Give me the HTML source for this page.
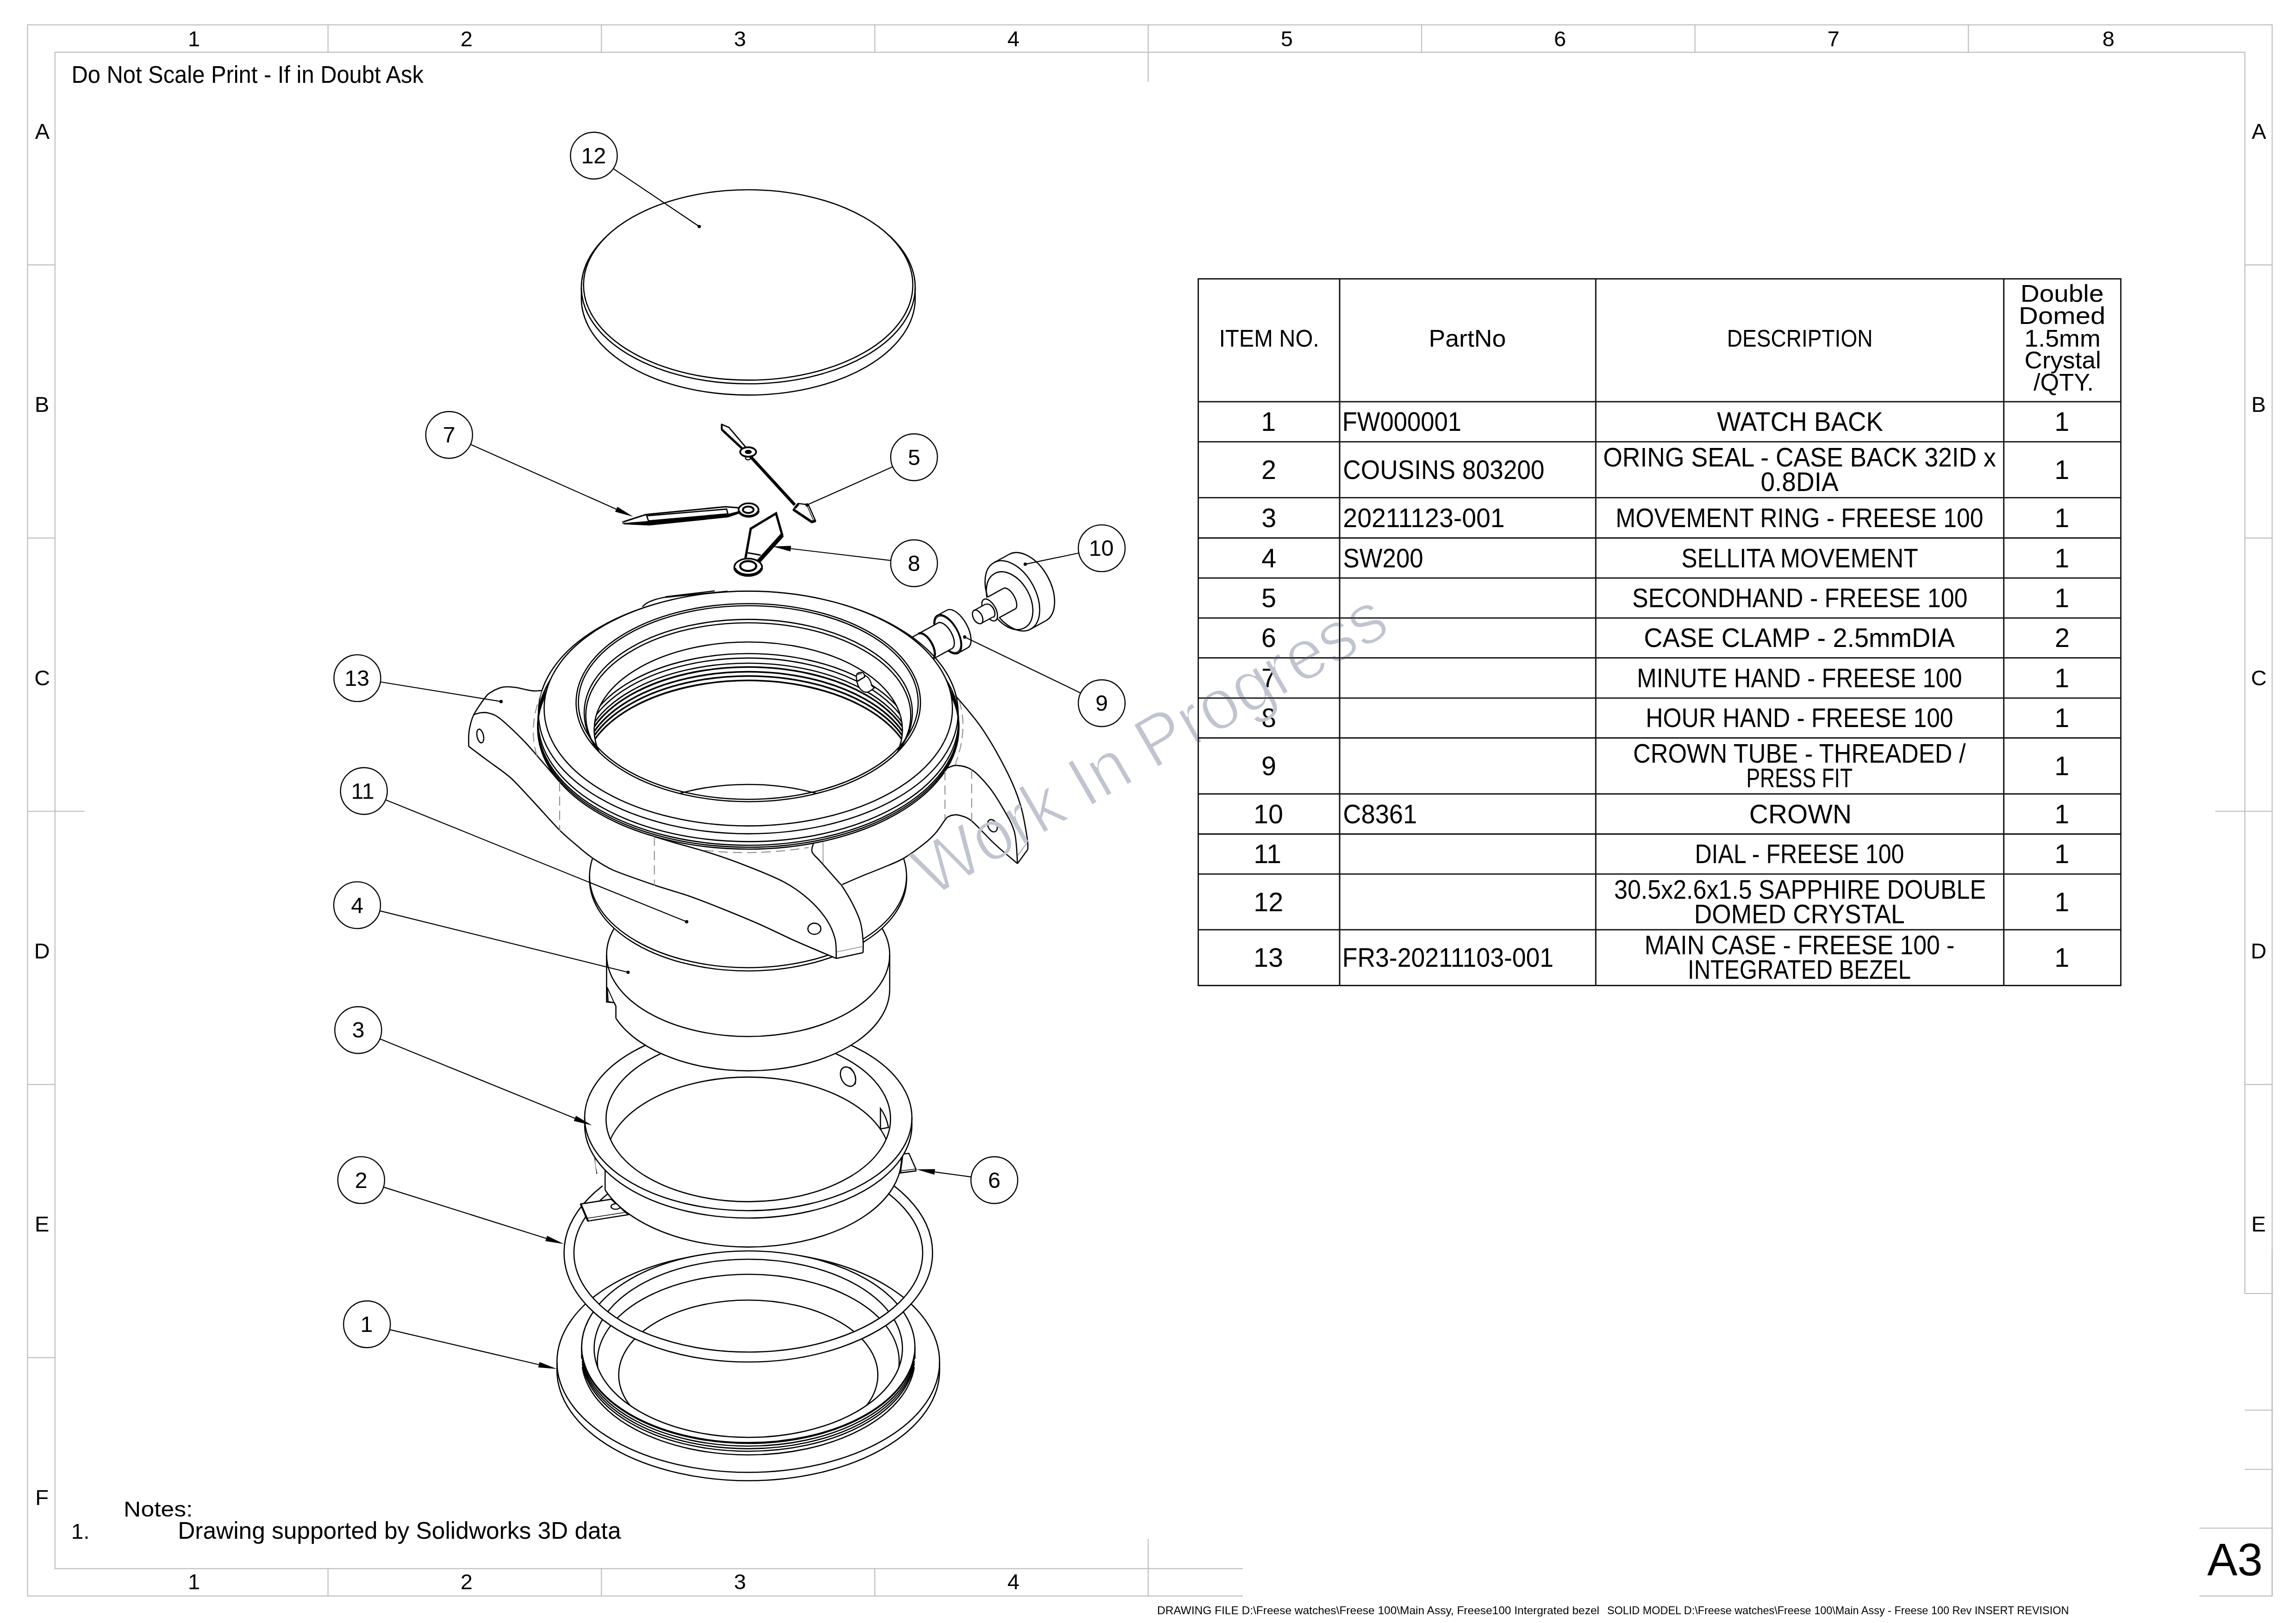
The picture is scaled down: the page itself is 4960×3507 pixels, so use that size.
<!DOCTYPE html>
<html><head><meta charset="utf-8"><style>
html,body{margin:0;padding:0;background:#fff;}
svg{display:block;}
text{font-family:"Liberation Sans",sans-serif;}
</style></head><body>
<svg width="4960" height="3507" viewBox="0 0 4960 3507" font-family="Liberation Sans, sans-serif">
<rect width="4960" height="3507" fill="#fff"/>
<g stroke="#bdbdbd" stroke-width="2.2" fill="none">
<rect x="59.5" y="53.7" width="4849.0" height="3394.9"/>
<rect x="118.8" y="113" width="4730.7" height="3276.5"/>
<line x1="708.6" y1="53.7" x2="708.6" y2="113"/>
<line x1="708.6" y1="3389.5" x2="708.6" y2="3448.6"/>
<line x1="1299.2" y1="53.7" x2="1299.2" y2="113"/>
<line x1="1299.2" y1="3389.5" x2="1299.2" y2="3448.6"/>
<line x1="1889.8" y1="53.7" x2="1889.8" y2="113"/>
<line x1="1889.8" y1="3389.5" x2="1889.8" y2="3448.6"/>
<line x1="2480.4" y1="53.7" x2="2480.4" y2="177"/>
<line x1="2480.4" y1="3325.5" x2="2480.4" y2="3448.6"/>
<line x1="3071.0" y1="53.7" x2="3071.0" y2="113"/>
<line x1="3071.0" y1="3389.5" x2="3071.0" y2="3448.6"/>
<line x1="3661.6" y1="53.7" x2="3661.6" y2="113"/>
<line x1="3661.6" y1="3389.5" x2="3661.6" y2="3448.6"/>
<line x1="4252.2" y1="53.7" x2="4252.2" y2="113"/>
<line x1="4252.2" y1="3389.5" x2="4252.2" y2="3448.6"/>
<line x1="59.5" y1="572.4" x2="118.8" y2="572.4"/>
<line x1="4849.5" y1="572.4" x2="4908.5" y2="572.4"/>
<line x1="59.5" y1="1162.7" x2="118.8" y2="1162.7"/>
<line x1="4849.5" y1="1162.7" x2="4908.5" y2="1162.7"/>
<line x1="59.5" y1="1753.0" x2="182.8" y2="1753.0"/>
<line x1="4785.5" y1="1753.0" x2="4908.5" y2="1753.0"/>
<line x1="59.5" y1="2343.3" x2="118.8" y2="2343.3"/>
<line x1="4849.5" y1="2343.3" x2="4908.5" y2="2343.3"/>
<line x1="59.5" y1="2933.6" x2="118.8" y2="2933.6"/>
<line x1="4849.5" y1="2933.6" x2="4908.5" y2="2933.6"/>
</g>
<text x="406.0" y="100.3" font-size="47.0" fill="#000">1</text>
<text x="406.0" y="3433.5" font-size="47.0" fill="#000">1</text>
<text x="994.8" y="100.3" font-size="47.0" fill="#000">2</text>
<text x="994.8" y="3433.5" font-size="47.0" fill="#000">2</text>
<text x="1585.6" y="100.3" font-size="47.0" fill="#000">3</text>
<text x="1585.6" y="3433.5" font-size="47.0" fill="#000">3</text>
<text x="2176.2" y="100.3" font-size="47.0" fill="#000">4</text>
<text x="2176.2" y="3433.5" font-size="47.0" fill="#000">4</text>
<text x="2766.7" y="100.3" font-size="47.0" fill="#000">5</text>
<text x="3357.1" y="100.3" font-size="47.0" fill="#000">6</text>
<text x="3947.8" y="100.3" font-size="47.0" fill="#000">7</text>
<text x="4541.8" y="100.3" font-size="47.0" fill="#000">8</text>
<text x="75.8" y="300.0" font-size="47.0" fill="#000">A</text>
<text x="4864.3" y="300.0" font-size="47.0" fill="#000">A</text>
<text x="75.1" y="890.3" font-size="47.0" fill="#000">B</text>
<text x="4863.6" y="890.3" font-size="47.0" fill="#000">B</text>
<text x="74.2" y="1480.6" font-size="47.0" fill="#000">C</text>
<text x="4862.7" y="1480.6" font-size="47.0" fill="#000">C</text>
<text x="73.7" y="2070.9" font-size="47.0" fill="#000">D</text>
<text x="4862.2" y="2070.9" font-size="47.0" fill="#000">D</text>
<text x="74.9" y="2661.2" font-size="47.0" fill="#000">E</text>
<text x="4863.4" y="2661.2" font-size="47.0" fill="#000">E</text>
<text x="76.2" y="3251.5" font-size="47.0" fill="#000">F</text>
<text x="4864.7" y="3251.5" font-size="47.0" fill="#000">F</text>
<rect x="2685" y="2592" width="2163" height="860" fill="#fff"/>
<rect x="2685" y="2796" width="2222" height="656" fill="#fff"/>
<g stroke="#bdbdbd" stroke-width="2.2" fill="none">
<line x1="4849.5" y1="2795" x2="4908.5" y2="2795"/>
<line x1="4849.5" y1="3047" x2="4908.5" y2="3047"/>
<line x1="4849.5" y1="3175" x2="4908.5" y2="3175"/>
<line x1="4751.5" y1="3302" x2="4908.5" y2="3302"/>
<line x1="4751.5" y1="3448.6" x2="4908.5" y2="3448.6"/>
<line x1="4908.5" y1="2700" x2="4908.5" y2="3448.6"/>
</g>
<text x="4768.3" y="3404.0" font-size="98.0" textLength="119.6" lengthAdjust="spacingAndGlyphs" fill="#000">A3</text>
<text x="154.4" y="179.0" font-size="51.0" textLength="760.5" lengthAdjust="spacingAndGlyphs" fill="#000">Do Not Scale Print - If in Doubt Ask</text>
<text x="267.1" y="3276.8" font-size="47.0" textLength="149.3" lengthAdjust="spacingAndGlyphs" fill="#000">Notes:</text>
<text x="153.7" y="3325.0" font-size="47.0" textLength="39.7" lengthAdjust="spacingAndGlyphs" fill="#000">1.</text>
<text x="384.2" y="3325.0" font-size="52.0" textLength="957.3" lengthAdjust="spacingAndGlyphs" fill="#000">Drawing supported by Solidworks 3D data</text>
<text x="2499.8" y="3487.9" font-size="24.0" textLength="955.2" lengthAdjust="spacingAndGlyphs" fill="#000">DRAWING FILE D:\Freese watches\Freese 100\Main Assy, Freese100 Intergrated bezel</text>
<text x="3471.9" y="3487.9" font-size="24.0" textLength="997.5" lengthAdjust="spacingAndGlyphs" fill="#000">SOLID MODEL D:\Freese watches\Freese 100\Main Assy - Freese 100 Rev INSERT REVISION</text>
<g stroke="#111" stroke-width="2.6" fill="none">
<line x1="2587.5" y1="602.5" x2="4582.9" y2="602.5"/>
<line x1="2587.5" y1="868" x2="4582.9" y2="868"/>
<line x1="2587.5" y1="954.7" x2="4582.9" y2="954.7"/>
<line x1="2587.5" y1="1075.3" x2="4582.9" y2="1075.3"/>
<line x1="2587.5" y1="1162.4" x2="4582.9" y2="1162.4"/>
<line x1="2587.5" y1="1249" x2="4582.9" y2="1249"/>
<line x1="2587.5" y1="1335.3" x2="4582.9" y2="1335.3"/>
<line x1="2587.5" y1="1421.5" x2="4582.9" y2="1421.5"/>
<line x1="2587.5" y1="1508.2" x2="4582.9" y2="1508.2"/>
<line x1="2587.5" y1="1594.6" x2="4582.9" y2="1594.6"/>
<line x1="2587.5" y1="1715.5" x2="4582.9" y2="1715.5"/>
<line x1="2587.5" y1="1802.1" x2="4582.9" y2="1802.1"/>
<line x1="2587.5" y1="1888.8" x2="4582.9" y2="1888.8"/>
<line x1="2587.5" y1="2009" x2="4582.9" y2="2009"/>
<line x1="2587.5" y1="2129.6" x2="4582.9" y2="2129.6"/>
<line x1="2588.7" y1="602.5" x2="2588.7" y2="2129.6"/>
<line x1="2894" y1="602.5" x2="2894" y2="2129.6"/>
<line x1="3447.2" y1="602.5" x2="3447.2" y2="2129.6"/>
<line x1="4328.8" y1="602.5" x2="4328.8" y2="2129.6"/>
<line x1="4581.7" y1="602.5" x2="4581.7" y2="2129.6"/>
</g>
<text x="2633.5" y="749.1" font-size="52.0" textLength="216.4" lengthAdjust="spacingAndGlyphs" fill="#000">ITEM NO.</text>
<text x="3086.6" y="749.1" font-size="52.0" textLength="166.6" lengthAdjust="spacingAndGlyphs" fill="#000">PartNo</text>
<text x="3730.7" y="749.1" font-size="52.0" textLength="314.8" lengthAdjust="spacingAndGlyphs" fill="#000">DESCRIPTION</text>
<text x="4364.8" y="651.6" font-size="52.0" textLength="179.7" lengthAdjust="spacingAndGlyphs" fill="#000">Double</text>
<text x="4361.1" y="700.2" font-size="52.0" textLength="187.2" lengthAdjust="spacingAndGlyphs" fill="#000">Domed</text>
<text x="4373.3" y="748.8" font-size="52.0" textLength="164.4" lengthAdjust="spacingAndGlyphs" fill="#000">1.5mm</text>
<text x="4373.6" y="795.9" font-size="52.0" textLength="165.1" lengthAdjust="spacingAndGlyphs" fill="#000">Crystal</text>
<text x="4393.0" y="844.0" font-size="52.0" textLength="130.0" lengthAdjust="spacingAndGlyphs" fill="#000">/QTY.</text>
<text x="2724.2" y="931.1" font-size="57.5" fill="#000">1</text>
<text x="2899.7" y="931.1" font-size="57.5" textLength="257.4" lengthAdjust="spacingAndGlyphs" fill="#000">FW000001</text>
<text x="4438.2" y="931.1" font-size="57.5" fill="#000">1</text>
<text x="3709.3" y="931.1" font-size="57.5" textLength="358.8" lengthAdjust="spacingAndGlyphs" fill="#000">WATCH BACK</text>
<text x="2725.0" y="1034.8" font-size="57.5" fill="#000">2</text>
<text x="2901.3" y="1034.8" font-size="57.5" textLength="435.2" lengthAdjust="spacingAndGlyphs" fill="#000">COUSINS 803200</text>
<text x="4438.2" y="1034.8" font-size="57.5" fill="#000">1</text>
<text x="3463.2" y="1008.0" font-size="57.5" textLength="848.7" lengthAdjust="spacingAndGlyphs" fill="#000">ORING SEAL - CASE BACK 32ID x</text>
<text x="3803.4" y="1061.0" font-size="57.5" textLength="168.3" lengthAdjust="spacingAndGlyphs" fill="#000">0.8DIA</text>
<text x="2725.2" y="1138.6" font-size="57.5" fill="#000">3</text>
<text x="2901.3" y="1138.6" font-size="57.5" textLength="349.4" lengthAdjust="spacingAndGlyphs" fill="#000">20211123-001</text>
<text x="4438.2" y="1138.6" font-size="57.5" fill="#000">1</text>
<text x="3490.3" y="1138.6" font-size="57.5" textLength="794.2" lengthAdjust="spacingAndGlyphs" fill="#000">MOVEMENT RING - FREESE 100</text>
<text x="2725.2" y="1225.5" font-size="57.5" fill="#000">4</text>
<text x="2901.6" y="1225.5" font-size="57.5" textLength="173.0" lengthAdjust="spacingAndGlyphs" fill="#000">SW200</text>
<text x="4438.2" y="1225.5" font-size="57.5" fill="#000">1</text>
<text x="3632.2" y="1225.5" font-size="57.5" textLength="511.5" lengthAdjust="spacingAndGlyphs" fill="#000">SELLITA MOVEMENT</text>
<text x="2725.1" y="1311.9" font-size="57.5" fill="#000">5</text>
<text x="4438.2" y="1311.9" font-size="57.5" fill="#000">1</text>
<text x="3526.1" y="1311.9" font-size="57.5" textLength="724.4" lengthAdjust="spacingAndGlyphs" fill="#000">SECONDHAND - FREESE 100</text>
<text x="2724.8" y="1398.2" font-size="57.5" fill="#000">6</text>
<text x="4439.0" y="1398.2" font-size="57.5" fill="#000">2</text>
<text x="3551.2" y="1398.2" font-size="57.5" textLength="671.9" lengthAdjust="spacingAndGlyphs" fill="#000">CASE CLAMP - 2.5mmDIA</text>
<text x="2725.0" y="1484.6" font-size="57.5" fill="#000">7</text>
<text x="4438.2" y="1484.6" font-size="57.5" fill="#000">1</text>
<text x="3536.3" y="1484.6" font-size="57.5" textLength="702.2" lengthAdjust="spacingAndGlyphs" fill="#000">MINUTE HAND - FREESE 100</text>
<text x="2725.0" y="1571.2" font-size="57.5" fill="#000">8</text>
<text x="4438.2" y="1571.2" font-size="57.5" fill="#000">1</text>
<text x="3555.3" y="1571.2" font-size="57.5" textLength="664.2" lengthAdjust="spacingAndGlyphs" fill="#000">HOUR HAND - FREESE 100</text>
<text x="2725.0" y="1674.8" font-size="57.5" fill="#000">9</text>
<text x="4438.2" y="1674.8" font-size="57.5" fill="#000">1</text>
<text x="3527.9" y="1648.0" font-size="57.5" textLength="718.6" lengthAdjust="spacingAndGlyphs" fill="#000">CROWN TUBE - THREADED /</text>
<text x="3772.4" y="1701.0" font-size="57.5" textLength="229.7" lengthAdjust="spacingAndGlyphs" fill="#000">PRESS FIT</text>
<text x="2708.0" y="1778.5" font-size="57.5" fill="#000">10</text>
<text x="2901.2" y="1778.5" font-size="57.5" textLength="160.1" lengthAdjust="spacingAndGlyphs" fill="#000">C8361</text>
<text x="4438.2" y="1778.5" font-size="57.5" fill="#000">1</text>
<text x="3778.8" y="1778.5" font-size="57.5" textLength="221.2" lengthAdjust="spacingAndGlyphs" fill="#000">CROWN</text>
<text x="2708.2" y="1865.2" font-size="57.5" fill="#000">11</text>
<text x="4438.2" y="1865.2" font-size="57.5" fill="#000">1</text>
<text x="3661.4" y="1865.2" font-size="57.5" textLength="452.0" lengthAdjust="spacingAndGlyphs" fill="#000">DIAL - FREESE 100</text>
<text x="2708.3" y="1968.7" font-size="57.5" fill="#000">12</text>
<text x="4438.2" y="1968.7" font-size="57.5" fill="#000">1</text>
<text x="3487.0" y="1941.9" font-size="57.5" textLength="803.2" lengthAdjust="spacingAndGlyphs" fill="#000">30.5x2.6x1.5 SAPPHIRE DOUBLE</text>
<text x="3659.8" y="1994.9" font-size="57.5" textLength="454.8" lengthAdjust="spacingAndGlyphs" fill="#000">DOMED CRYSTAL</text>
<text x="2708.1" y="2089.1" font-size="57.5" fill="#000">13</text>
<text x="2899.7" y="2089.1" font-size="57.5" textLength="456.4" lengthAdjust="spacingAndGlyphs" fill="#000">FR3-20211103-001</text>
<text x="4438.2" y="2089.1" font-size="57.5" fill="#000">1</text>
<text x="3552.8" y="2062.3" font-size="57.5" textLength="669.5" lengthAdjust="spacingAndGlyphs" fill="#000">MAIN CASE - FREESE 100 -</text>
<text x="3646.0" y="2115.3" font-size="57.5" textLength="482.1" lengthAdjust="spacingAndGlyphs" fill="#000">INTEGRATED BEZEL</text>
<path d="M1203.2,2943.0 A413.3,238.5 0 0 1 1616.5,2704.5A413.3,238.5 0 0 1 2029.8,2943.0 L2029.8,2961.0 A413.3,238.5 0 0 1 1616.5,3199.5A413.3,238.5 0 0 1 1203.2,2961.0 Z" fill="#fff" stroke="none"/>
<ellipse cx="1616.5" cy="2943.0" rx="413.3" ry="238.5" stroke="#000" stroke-width="2.6" fill="none"/>
<path d="M2029.8,2961.0A413.3,238.5 0 0 1 1616.5,3199.5A413.3,238.5 0 0 1 1203.2,2961.0" stroke="#000" stroke-width="2.6" fill="none"/>
<line x1="1203.2" y1="2943.0" x2="1203.2" y2="2961.0" stroke="#000" stroke-width="2.6"/>
<line x1="2029.8" y1="2943.0" x2="2029.8" y2="2961.0" stroke="#000" stroke-width="2.6"/>
<path d="M1256.5,2911.0 A360.0,208.0 0 0 1 1616.5,2703.0A360.0,208.0 0 0 1 1976.5,2911.0 L1976.5,2936.0 A360.0,208.0 0 0 1 1616.5,3144.0A360.0,208.0 0 0 1 1256.5,2936.0 Z" fill="#fff" stroke="none"/>
<path d="M1975.1,2927.5A360.0,208.0 0 0 1 1257.9,2927.5" stroke="#000" stroke-width="2.6" fill="none"/>
<path d="M1975.1,2935.1A360.0,208.0 0 0 1 1257.9,2935.1" stroke="#000" stroke-width="2.6" fill="none"/>
<path d="M1975.1,2940.7A360.0,208.0 0 0 1 1257.9,2940.7" stroke="#000" stroke-width="2.6" fill="none"/>
<path d="M1975.1,2946.3A360.0,208.0 0 0 1 1257.9,2946.3" stroke="#000" stroke-width="2.6" fill="none"/>
<path d="M1975.1,2954.1A360.0,208.0 0 0 1 1257.9,2954.1" stroke="#000" stroke-width="2.6" fill="none"/>
<ellipse cx="1616.5" cy="2911.0" rx="360.0" ry="208.0" stroke="#000" stroke-width="2.6" fill="none"/>
<line x1="1256.5" y1="2911.0" x2="1256.5" y2="2936.0" stroke="#000" stroke-width="2.5"/>
<line x1="1976.5" y1="2911.0" x2="1976.5" y2="2936.0" stroke="#000" stroke-width="2.5"/>
<clipPath id="cpBack"><ellipse cx="1616.5" cy="2913.5" rx="333" ry="192.5"/></clipPath>
<ellipse cx="1616.5" cy="2913.5" rx="333.0" ry="192.5" stroke="#000" stroke-width="2.6" fill="none"/>
<g clip-path="url(#cpBack)">
<ellipse cx="1616.5" cy="2942.0" rx="326.0" ry="188.5" stroke="#000" stroke-width="2.6" fill="none"/>
<ellipse cx="1616.5" cy="2971.0" rx="279.9" ry="161.8" stroke="#000" stroke-width="2.6" fill="none"/>
</g>
<path d="M1218.5,2707.0 A398.0,236.0 0 0 1 1815.5,2502.6A398.0,236.0 0 0 1 1815.5,2911.4A398.0,236.0 0 0 1 1218.5,2707.0 M1239.8,2707.0 A376.7,214.5 0 0 1 1804.8,2521.2A376.7,214.5 0 0 1 1804.8,2892.8A376.7,214.5 0 0 1 1239.8,2707.0" fill="#fff" fill-rule="evenodd" stroke="#000" stroke-width="2.6"/>
<path d="M1254.5,2601.6 L1320.1,2591.4 L1357.1,2624.7 L1270.2,2638.5 Z" stroke="#000" stroke-width="2.6" fill="#fff"/>
<line x1="1268.0" y1="2632.5" x2="1352.0" y2="2619.5" stroke="#000" stroke-width="1.6"/>
<path d="M1254.5,2601.6 L1270.2,2638.5" stroke="#000" stroke-width="4" fill="none"/>
<ellipse cx="1330.0" cy="2607.0" rx="10.0" ry="6.0" stroke="#000" stroke-width="2.6" fill="#fff"/>
<path d="M1950.6,2493.4 L1963.5,2492.3 L1978.6,2526.0 L1978.6,2530.0 L1945.2,2534.4 Z" stroke="#000" stroke-width="2.6" fill="#fff"/>
<line x1="1946.0" y1="2530.0" x2="1978.0" y2="2526.0" stroke="#000" stroke-width="1.6"/>
<ellipse cx="1868.0" cy="2512.0" rx="9.0" ry="6.0" stroke="#000" stroke-width="2.6" fill="#fff"/>
<path d="M1285.0,2500.0 L1289.6,2535.0 L1307.2,2531.3 Z" stroke="#000" stroke-width="2.6" fill="#fff"/>
<line x1="1287.0" y1="2502.0" x2="1291.5" y2="2534.0" stroke="#000" stroke-width="1.4"/>
<path d="M1285.7,2431.0 A330.8,191.2 0 0 1 1616.5,2239.8A330.8,191.2 0 0 1 1947.3,2431.0 L1947.3,2503.4 A330.8,191.2 0 0 1 1616.5,2694.6A330.8,191.2 0 0 1 1285.7,2503.4 Z" fill="#fff" stroke="none"/>
<path d="M1947.3,2503.4A330.8,191.2 0 0 1 1307.2,2571.2" stroke="#000" stroke-width="2.6" fill="none"/>
<line x1="1307.2" y1="2528.3" x2="1307.2" y2="2571.2" stroke="#000" stroke-width="2.5"/>
<path d="M1263.0,2415.0 A353.5,201.0 0 0 1 1616.5,2214.0A353.5,201.0 0 0 1 1970.0,2415.0 L1970.0,2431.0 A353.5,201.0 0 0 1 1616.5,2632.0A353.5,201.0 0 0 1 1263.0,2431.0 Z" fill="#fff" stroke="none"/>
<path d="M1970.0,2431.0A353.5,201.0 0 0 1 1616.5,2632.0A353.5,201.0 0 0 1 1263.0,2431.0" stroke="#000" stroke-width="2.6" fill="none"/>
<line x1="1263.0" y1="2415.0" x2="1263.0" y2="2431.0" stroke="#000" stroke-width="2.5"/>
<line x1="1970.0" y1="2415.0" x2="1970.0" y2="2431.0" stroke="#000" stroke-width="2.5"/>
<ellipse cx="1616.5" cy="2415.0" rx="353.5" ry="201.0" stroke="#000" stroke-width="2.6" fill="none"/>
<clipPath id="cpR3"><ellipse cx="1616.5" cy="2417.8" rx="307.3" ry="178.8"/></clipPath>
<ellipse cx="1616.5" cy="2417.8" rx="307.3" ry="178.8" stroke="#000" stroke-width="2.6" fill="none"/>
<g clip-path="url(#cpR3)">
<ellipse cx="1616.5" cy="2506.2" rx="307.3" ry="178.8" stroke="#000" stroke-width="2.6" fill="none"/>
<path d="M1902,2395.3 Q1915,2412 1919.3,2436.3 L1902,2439.5 Z" stroke="#000" stroke-width="2.6" fill="#fff"/>
</g>
<ellipse cx="1832" cy="2326.4" rx="15" ry="22" transform="rotate(-25 1832 2326.4)" fill="#fff" stroke="#000" stroke-width="2.6"/>
<path d="M1835,2306 Q1850,2316 1848,2343" stroke="#000" stroke-width="2" fill="none"/>
<path d="M1310.4,2063.0 A305.8,176.7 0 0 1 1616.2,1886.3A305.8,176.7 0 0 1 1922.0,2063.0 L1922.0,2137.2 A305.8,176.7 0 0 1 1616.2,2313.9A305.8,176.7 0 0 1 1310.4,2137.2 Z M1310.4,2063.0 L1310.4,2170.0 L1331.0,2202.0 Z" fill="#fff" stroke="none"/>
<ellipse cx="1616.2" cy="2063.0" rx="305.8" ry="176.7" stroke="#000" stroke-width="2.6" fill="none"/>
<path d="M1922.0,2137.2A305.8,176.7 0 0 1 1330.5,2200.2" stroke="#000" stroke-width="2.6" fill="none"/>
<line x1="1922.0" y1="2063.0" x2="1922.0" y2="2137.2" stroke="#000" stroke-width="2.5"/>
<path d="M1310.4,2063.0 L1310.4,2165.0 L1327.0,2166.5 L1330.5,2174.4 L1330.5,2200.2" stroke="#000" stroke-width="2.6" fill="none"/>
<path d="M1311.6,2133.0 L1313.6,2164.6 L1326.6,2166.5" stroke="#000" stroke-width="2.6" fill="#fff"/>
<line x1="1312.0" y1="2134.0" x2="1326.0" y2="2165.0" stroke="#000" stroke-width="2"/>
<path d="M1273.6,1893.0 A342.4,198.0 0 0 1 1616.0,1695.0A342.4,198.0 0 0 1 1958.4,1893.0 L1958.4,1900.0 A342.4,198.0 0 0 1 1616.0,2098.0A342.4,198.0 0 0 1 1273.6,1900.0 Z" fill="#fff" stroke="none"/>
<ellipse cx="1616.0" cy="1893.0" rx="342.4" ry="198.0" stroke="#000" stroke-width="2.6" fill="none"/>
<path d="M1958.4,1900.0A342.4,198.0 0 0 1 1616.0,2098.0A342.4,198.0 0 0 1 1273.6,1900.0" stroke="#000" stroke-width="2.6" fill="none"/>
<line x1="1273.6" y1="1893.0" x2="1273.6" y2="1900.0" stroke="#000" stroke-width="2.5"/>
<line x1="1958.4" y1="1893.0" x2="1958.4" y2="1900.0" stroke="#000" stroke-width="2.5"/>
<path d="M2069.9,1411.2 A22.3,46.5 -28.8 0 1 2027.9,1381.2 A22.3,46.5 -28.8 0 1 2025.1,1329.7 L2045.6,1318.5 A22.3,46.5 -28.8 0 1 2087.5,1348.4 A22.3,46.5 -28.8 0 1 2090.4,1399.9 Z M2067.0,1359.7 A22.3,46.5 -28.8 0 1 2057.1,1411.1 A22.3,46.5 -28.8 0 1 2018.3,1340.6 A22.3,46.5 -28.8 0 1 2067.0,1359.7" fill="#fff" stroke="none"/>
<ellipse cx="2047.5" cy="1370.5" rx="22.3" ry="46.5" transform="rotate(-28.8 2047.5 1370.5)" fill="none" stroke="#000" stroke-width="3.2"/>
<ellipse cx="2047.5" cy="1370.5" rx="20.9" ry="43.5" transform="rotate(-28.8 2047.5 1370.5)" fill="none" stroke="#000" stroke-width="1.8"/>
<path d="M2045.6,1318.5 A22.3,46.5 -28.8 0 1 2087.5,1348.4 A22.3,46.5 -28.8 0 1 2090.4,1399.9" stroke="#000" stroke-width="2.6" fill="none"/>
<line x1="2025.1" y1="1329.7" x2="2045.6" y2="1318.5" stroke="#000" stroke-width="2.5"/>
<line x1="2069.9" y1="1411.2" x2="2090.4" y2="1399.9" stroke="#000" stroke-width="2.5"/>
<path d="M1991.0,1437.5 A15.1,31.5 -28.8 0 1 1962.5,1417.2 A15.1,31.5 -28.8 0 1 1960.6,1382.3 L2026.3,1346.1 A15.1,31.5 -28.8 0 1 2054.7,1366.5 A15.1,31.5 -28.8 0 1 2056.7,1401.4 Z" fill="#fff" stroke="none"/>
<path d="M2026.3,1346.1 A15.1,31.5 -28.8 0 1 2054.7,1366.5 A15.1,31.5 -28.8 0 1 2056.7,1401.4" stroke="#000" stroke-width="2.6" fill="none"/>
<line x1="1960.6" y1="1382.3" x2="2026.3" y2="1346.1" stroke="#000" stroke-width="2.5"/>
<line x1="1991.0" y1="1437.5" x2="2056.7" y2="1401.4" stroke="#000" stroke-width="2.5"/>
<path d="M1984.3,1369.3 A15.1,31.5 -28.8 0 1 2012.7,1389.6 A15.1,31.5 -28.8 0 1 2014.6,1424.5" stroke="#000" stroke-width="4.5" fill="none"/>
<path d="M2226.5,1359.4 A50.0,82.0 -28.8 0 1 2143.2,1311.6 A50.0,82.0 -28.8 0 1 2147.5,1215.6 L2179.7,1198.0 A50.0,82.0 -28.8 0 1 2263.0,1245.7 A50.0,82.0 -28.8 0 1 2258.7,1341.7 Z M2230.8,1263.4 A50.0,82.0 -28.8 0 1 2199.3,1361.8 A50.0,82.0 -28.8 0 1 2130.9,1237.3 A50.0,82.0 -28.8 0 1 2230.8,1263.4" fill="#fff" stroke="none"/>
<ellipse cx="2187" cy="1287.5" rx="50" ry="82" transform="rotate(-28.8 2187 1287.5)" fill="none" stroke="#000" stroke-width="2.6"/>
<path d="M2179.7,1198.0 A50.0,82.0 -28.8 0 1 2263.0,1245.7 A50.0,82.0 -28.8 0 1 2258.7,1341.7" stroke="#000" stroke-width="2.6" fill="none"/>
<line x1="2147.5" y1="1215.6" x2="2179.7" y2="1198.0" stroke="#000" stroke-width="2.5"/>
<line x1="2226.5" y1="1359.4" x2="2258.7" y2="1341.7" stroke="#000" stroke-width="2.5"/>
<ellipse cx="2181.0" cy="1298.0" rx="44.0" ry="67.0" transform="rotate(-28.8 2181.0 1298.0)" fill="none" stroke="#000" stroke-width="2.6"/>
<path d="M2158.3,1334.8 A11.5,25.5 -28.8 0 1 2135.9,1318.0 A11.5,25.5 -28.8 0 1 2133.7,1290.2 L2168.2,1271.2 A11.5,25.5 -28.8 0 1 2190.6,1288.0 A11.5,25.5 -28.8 0 1 2192.8,1315.9 Z" fill="#fff" stroke="none"/>
<path d="M2168.3,1271.4 A11.5,25.5 -28.8 0 1 2190.7,1288.2 A11.5,25.5 -28.8 0 1 2192.9,1316.0" stroke="#000" stroke-width="2.6" fill="none"/>
<line x1="2133.7" y1="1290.2" x2="2168.2" y2="1271.2" stroke="#000" stroke-width="2.5"/>
<line x1="2158.3" y1="1334.8" x2="2192.8" y2="1315.9" stroke="#000" stroke-width="2.5"/>
<ellipse cx="2138.0" cy="1318.0" rx="13.0" ry="26.0" transform="rotate(-28.8 2138.0 1318.0)" fill="#fff" stroke="#000" stroke-width="2.6"/>
<path d="M2119.7,1347.0 A9.5,16.0 -28.8 0 1 2103.7,1337.6 A9.5,16.0 -28.8 0 1 2104.3,1319.0 L2129.8,1305.0 A9.5,16.0 -28.8 0 1 2145.8,1314.4 A9.5,16.0 -28.8 0 1 2145.2,1333.0 Z" fill="#fff" stroke="none"/>
<path d="M2130.3,1306.0 A9.5,16.0 -28.8 0 1 2146.3,1315.4 A9.5,16.0 -28.8 0 1 2145.7,1334.0" stroke="#000" stroke-width="2.6" fill="none"/>
<line x1="2104.3" y1="1319.0" x2="2129.8" y2="1305.0" stroke="#000" stroke-width="2.5"/>
<line x1="2119.7" y1="1347.0" x2="2145.2" y2="1333.0" stroke="#000" stroke-width="2.5"/>
<ellipse cx="2112.0" cy="1333.0" rx="9.5" ry="16.0" transform="rotate(-28.8 2112.0 1333.0)" fill="#fff" stroke="#000" stroke-width="2.6"/>
<path d="M1171.5,1491.9 L1149.8,1492.6 L1114.4,1485.5 L1094.6,1484.0 L1078.9,1486.7 L1059.1,1496.6 L1047.3,1508.4 L1023.7,1543.9 L1015.8,1567.6 L1012.6,1587.3 L1012.6,1612.9 L1053.9,1643.8 L1103.2,1680.7 L1152.5,1732.5 L1209.2,1794.1 L1251.1,1831.1 L1280.6,1854.5 L1325.0,1880.4 L1413.7,1912.4 L1485.2,1935.0 L1563.6,1965.0 L1642.0,1997.7 L1720.4,2034.3 L1806.6,2070.9 L1864.4,2058.6 L1864.4,2031.2 L1858.5,1992.0 L1840.6,1950.7 L1819.3,1915.0 L1865.3,1891.6 L1904.5,1875.9 L1951.6,1855.0 L1996.0,1823.6 L2022.1,1798.8 L2041.7,1771.4 L2048.3,1764.8 L2061.3,1760.9 L2074.4,1762.2 L2099.7,1774.5 L2149.6,1824.4 L2198.1,1866.0 L2220.3,1835.5 L2219.0,1810.6 L2205.0,1741.2 L2177.4,1671.9 L2121.9,1574.8 L2063.6,1502.7 L2000.0,1500.0 L1600.0,1500.0 L1200.0,1480.0 Z" fill="#fff" stroke="none"/>
<path d="M1171.5,1491.9 C1167.9,1492.0 1159.3,1493.7 1149.8,1492.6 C1140.3,1491.5 1123.6,1486.9 1114.4,1485.5 C1105.2,1484.1 1100.5,1483.8 1094.6,1484.0 C1088.7,1484.2 1084.8,1484.6 1078.9,1486.7 C1073.0,1488.8 1064.4,1493.0 1059.1,1496.6 C1053.8,1500.2 1053.2,1500.5 1047.3,1508.4 C1041.4,1516.3 1029.0,1534.0 1023.7,1543.9 C1018.5,1553.8 1017.6,1560.4 1015.8,1567.6 C1013.9,1574.8 1013.1,1579.8 1012.6,1587.3 C1012.1,1594.8 1012.6,1608.6 1012.6,1612.9" stroke="#000" stroke-width="2.6" fill="none"/>
<path d="M1012.6,1612.9 C1018.1,1617.0 1041.8,1634.8 1053.9,1643.8 C1066.0,1652.8 1090.1,1668.9 1103.2,1680.7 C1116.3,1692.5 1138.4,1717.4 1152.5,1732.5 C1166.6,1747.6 1196.1,1781.0 1209.2,1794.1 C1222.3,1807.2 1241.6,1823.0 1251.1,1831.1 C1260.6,1839.2 1270.7,1847.9 1280.6,1854.5 C1290.5,1861.1 1307.3,1872.7 1325.0,1880.4 C1342.7,1888.1 1392.3,1905.1 1413.7,1912.4 C1435.1,1919.7 1465.2,1928.0 1485.2,1935.0 C1505.2,1942.0 1542.7,1956.6 1563.6,1965.0 C1584.5,1973.4 1621.1,1988.5 1642.0,1997.7 C1662.9,2006.9 1698.5,2024.5 1720.4,2034.3 C1742.3,2044.1 1795.1,2066.0 1806.6,2070.9" stroke="#000" stroke-width="2.6" fill="none"/>
<path d="M1023.7,1543.9 C1026.3,1543.2 1034.2,1540.5 1039.4,1540.0 C1044.7,1539.5 1048.6,1538.8 1055.2,1540.8 C1061.8,1542.8 1066.8,1542.4 1078.9,1551.8 C1091.0,1561.2 1114.2,1583.3 1127.9,1597.0 C1141.6,1610.7 1147.5,1618.4 1161.1,1633.9 C1174.6,1649.4 1201.2,1680.7 1209.2,1690.0" stroke="#000" stroke-width="2.6" fill="none"/>
<ellipse cx="1037.5" cy="1590.4" rx="7" ry="15" transform="rotate(-12 1037.5 1590.4)" fill="none" stroke="#000" stroke-width="2.6"/>
<path d="M1413.6,1807.8 C1420.3,1809.8 1432.7,1813.8 1453.8,1820.0 C1474.9,1826.2 1513.0,1836.3 1540.0,1845.0 C1567.0,1853.7 1590.1,1862.1 1615.8,1872.3 C1641.5,1882.5 1672.4,1894.5 1694.2,1906.2 C1716.0,1918.0 1731.2,1929.3 1746.5,1942.8 C1761.8,1956.3 1776.1,1972.8 1785.7,1987.2 C1795.3,2001.6 1800.5,2015.0 1804.0,2029.0 C1807.5,2043.0 1806.2,2063.9 1806.6,2070.9" stroke="#000" stroke-width="2.6" fill="none"/>
<path d="M1806.6,2070.9 L1864.4,2058.6" stroke="#000" stroke-width="2.6" fill="none"/>
<path d="M1864.4,2058.6 C1864.4,2054.0 1865.4,2042.3 1864.4,2031.2 C1863.4,2020.1 1862.5,2005.4 1858.5,1992.0 C1854.5,1978.6 1847.1,1963.5 1840.6,1950.7 C1834.1,1937.9 1824.1,1922.4 1819.3,1915.0 C1814.5,1907.6 1819.6,1915.1 1811.8,1906.2 C1804.0,1897.3 1782.2,1872.7 1772.6,1861.8 C1763.0,1850.9 1757.0,1847.4 1754.4,1840.9 C1751.8,1834.4 1756.6,1825.6 1757.0,1822.6" stroke="#000" stroke-width="2.6" fill="none"/>
<line x1="1754.6" y1="1819.5" x2="1778.0" y2="1817.6" stroke="#000" stroke-width="2.5"/>
<ellipse cx="1759.3" cy="2006.9" rx="14" ry="12" fill="none" stroke="#000" stroke-width="2.6"/>
<line x1="1778.0" y1="1819.5" x2="1778.0" y2="1866.6" stroke="#888" stroke-width="1.6"/>
<line x1="1808.3" y1="2056.7" x2="1864.4" y2="2045.0" stroke="#888" stroke-width="1.6"/>
<path d="M1819.6,1911.2 C1827.2,1907.9 1851.1,1897.5 1865.3,1891.6 C1879.5,1885.7 1890.1,1882.0 1904.5,1875.9 C1918.9,1869.8 1936.3,1863.7 1951.6,1855.0 C1966.8,1846.3 1984.2,1833.0 1996.0,1823.6 C2007.8,1814.2 2014.5,1807.5 2022.1,1798.8 C2029.7,1790.1 2037.3,1777.1 2041.7,1771.4 C2046.1,1765.7 2045.0,1766.5 2048.3,1764.8 C2051.6,1763.0 2057.0,1761.3 2061.3,1760.9 C2065.7,1760.5 2068.0,1759.9 2074.4,1762.2 C2080.8,1764.5 2087.2,1764.1 2099.7,1774.5 C2112.2,1784.9 2133.2,1809.2 2149.6,1824.4 C2166.0,1839.7 2190.0,1859.1 2198.1,1866.0" stroke="#000" stroke-width="2.6" fill="none"/>
<path d="M2198.1,1866.0 L2220.3,1835.5" stroke="#000" stroke-width="2.6" fill="none"/>
<path d="M2220.3,1835.5 C2220.1,1831.3 2221.6,1826.3 2219.0,1810.6 C2216.4,1794.9 2211.9,1764.3 2205.0,1741.2 C2198.1,1718.1 2191.2,1699.6 2177.4,1671.9 C2163.6,1644.2 2140.9,1603.0 2121.9,1574.8 C2102.9,1546.6 2073.3,1514.7 2063.6,1502.7" stroke="#000" stroke-width="2.6" fill="none"/>
<path d="M2038.0,1664.0 C2039.0,1663.5 2039.5,1662.5 2044.2,1660.8 C2048.9,1659.1 2057.2,1653.4 2066.4,1653.9 C2075.7,1654.4 2088.1,1656.0 2099.7,1663.6 C2111.2,1671.2 2125.1,1686.7 2135.7,1699.6 C2146.3,1712.5 2154.2,1725.0 2163.5,1741.2 C2172.8,1757.4 2185.4,1775.9 2191.2,1796.7 C2197.0,1817.5 2196.9,1854.5 2198.1,1866.0" stroke="#000" stroke-width="2.6" fill="none"/>
<ellipse cx="2144" cy="1784.2" rx="9.5" ry="14" transform="rotate(-25 2144 1784.2)" fill="none" stroke="#000" stroke-width="2.6"/>
<line x1="2198.1" y1="1849.4" x2="2220.3" y2="1818.9" stroke="#888" stroke-width="1.6"/>
<path d="M1388,1311.3 Q1398,1298 1434,1291 L1572,1277.5" stroke="#000" stroke-width="2.6" fill="none"/>
<path d="M1437.7,1289.6 L1544,1276.8" stroke="#000" stroke-width="2.6" fill="none"/>
<path d="M1161.5,1573.2A455.0,261.6 0 0 1 1844.0,1346.6A455.0,261.6 0 0 1 1844.0,1799.8A455.0,261.6 0 0 1 1161.5,1573.2 M1175.5,1531.0A441.0,253.6 0 0 1 1837.0,1311.4A441.0,253.6 0 0 1 1837.0,1750.6A441.0,253.6 0 0 1 1175.5,1531.0" fill="#fff" stroke="none"/>
<clipPath id="cpOutA"><path clip-rule="evenodd" d="M0,0 H4960 V3507 H0 Z M1175.5,1531.0A441.0,253.6 0 0 1 1837.0,1311.4A441.0,253.6 0 0 1 1837.0,1750.6A441.0,253.6 0 0 1 1175.5,1531.0 Z"/></clipPath>
<g clip-path="url(#cpOutA)">
<ellipse cx="1616.5" cy="1540.0" rx="453.3" ry="261.6" stroke="#000" stroke-width="2.6" fill="none"/>
<ellipse cx="1616.5" cy="1557.0" rx="454.2" ry="261.6" stroke="#000" stroke-width="2.6" fill="none"/>
<ellipse cx="1616.5" cy="1564.9" rx="454.6" ry="261.6" stroke="#000" stroke-width="2.6" fill="none"/>
<ellipse cx="1616.5" cy="1569.2" rx="454.8" ry="261.6" stroke="#000" stroke-width="2.6" fill="none"/>
<ellipse cx="1616.5" cy="1573.2" rx="455.0" ry="261.6" stroke="#000" stroke-width="2.6" fill="none"/>
</g>
<ellipse cx="1616.5" cy="1531.0" rx="441.0" ry="253.6" stroke="#000" stroke-width="2.6" fill="none"/>
<clipPath id="cpB"><ellipse cx="1616.5" cy="1518.2" rx="372" ry="214"/></clipPath>
<g clip-path="url(#cpB)">
<ellipse cx="1616.0" cy="1893.0" rx="342.4" ry="198.0" stroke="#000" stroke-width="2.6" fill="none"/>
<ellipse cx="1616.5" cy="1518.0" rx="367.0" ry="209.2" stroke="#000" stroke-width="2.6" fill="none"/>
<ellipse cx="1616.5" cy="1540.5" rx="354.5" ry="202.1" stroke="#000" stroke-width="2.6" fill="none"/>
<ellipse cx="1616.5" cy="1545.8" rx="351.0" ry="200.1" stroke="#000" stroke-width="2.6" fill="none"/>
<ellipse cx="1616.5" cy="1577.0" rx="333.0" ry="189.8" stroke="#000" stroke-width="2.6" fill="none"/>
<clipPath id="cpF"><ellipse cx="1616.5" cy="1575.0" rx="333" ry="187.8"/></clipPath>
<g clip-path="url(#cpF)">
<ellipse cx="1616.5" cy="1616.3" rx="358.0" ry="204.0" stroke="#000" stroke-width="2.6" fill="none"/>
<ellipse cx="1616.5" cy="1625.9" rx="358.0" ry="204.0" stroke="#000" stroke-width="2.6" fill="none"/>
<ellipse cx="1616.5" cy="1637.0" rx="358.0" ry="204.0" stroke="#000" stroke-width="2.6" fill="none"/>
<ellipse cx="1616.5" cy="1645.3" rx="358.0" ry="204.0" stroke="#000" stroke-width="3.6" fill="none"/>
<ellipse cx="1616.5" cy="1655.5" rx="358.0" ry="204.0" stroke="#000" stroke-width="3.6" fill="none"/>
<ellipse cx="1616.5" cy="1664.7" rx="358.0" ry="204.0" stroke="#000" stroke-width="3.6" fill="none"/>
<ellipse cx="1616.5" cy="1674.3" rx="358.0" ry="204.0" stroke="#000" stroke-width="3.6" fill="none"/>
</g>
<path d="M1849.9,1462.5 L1851.1,1456.4 Q1855,1452.5 1861.6,1452.7 Q1866.5,1454 1867.8,1459.4 L1867.8,1463.1 L1851.1,1472.4 Z" stroke="#000" stroke-width="2.4" fill="#fff"/>
<path d="M1851.1,1473 C1853,1482 1858,1490 1864.7,1494 C1869,1496.5 1876,1496.5 1880.1,1492.7 L1888.7,1486.5 L1882.6,1481 C1882,1472 1876,1462 1867.8,1459.4 L1867.8,1463.1 Z" stroke="#000" stroke-width="2.4" fill="#fff"/>
<path d="M1853,1458 Q1858,1455 1862,1456" stroke="#000" stroke-width="1.6" fill="none"/>
</g>
<ellipse cx="1616.5" cy="1518.2" rx="372.0" ry="214.0" stroke="#000" stroke-width="2.6" fill="none"/>
<line x1="1209.0" y1="1689.8" x2="1209.0" y2="1796.3" stroke="#888" stroke-width="2" stroke-dasharray="20,11"/>
<line x1="1413.6" y1="1807.8" x2="1413.6" y2="1913.6" stroke="#888" stroke-width="2" stroke-dasharray="20,11"/>
<path d="M1521.4,1837.2 Q1630,1850 1746.8,1831.3" stroke="#888" stroke-width="2" fill="none" stroke-dasharray="20,11"/>
<path d="M1171.5,1492.6 Q1140,1567 1159.7,1632.6" stroke="#888" stroke-width="2" fill="none" stroke-dasharray="20,11"/>
<line x1="2041.4" y1="1666.0" x2="2041.4" y2="1769.0" stroke="#888" stroke-width="2" stroke-dasharray="20,11"/>
<line x1="2099.1" y1="1663.0" x2="2099.1" y2="1774.0" stroke="#888" stroke-width="2" stroke-dasharray="20,11"/>
<path d="M2072,1513.8 Q2092,1575 2063.6,1652.5" stroke="#888" stroke-width="2" fill="none" stroke-dasharray="20,11"/>
<path d="M1609.4,1212.0 L1621.8,1142.4 L1676.5,1109.4 L1689.8,1156.2 L1636.0,1216.0" stroke="#000" stroke-width="5" fill="#fff"/>
<path d="M1689.8,1156.2 L1636.0,1216.0" stroke="#000" stroke-width="9" fill="none"/>
<line x1="1615.3" y1="1194.6" x2="1643.4" y2="1199.6" stroke="#000" stroke-width="3"/>
<ellipse cx="1616.3" cy="1225.7" rx="30" ry="18.7" fill="#fff" stroke="#000" stroke-width="3.6"/>
<path d="M1587,1228 A30,18.7 0 0 0 1645.6,1228" stroke="#000" stroke-width="6" fill="none"/>
<ellipse cx="1616.3" cy="1223.2" rx="17.3" ry="10.6" fill="#fff" stroke="#000" stroke-width="4.5"/>
<path d="M1346.0,1127.8 L1395.5,1111.8 L1567.0,1095.0 L1596.2,1097.2 L1598.0,1107.6 L1572.5,1116.5 L1402.5,1134.0 L1348.0,1131.5 Z" stroke="#000" stroke-width="3.2" fill="#fff"/>
<path d="M1349,1130 L1401,1125.7 L1572.5,1110.4 L1598,1104 L1598,1109 L1572.5,1117 L1402.5,1134.5 L1349,1132.5 Z" fill="#000"/>
<path d="M1397.0,1114.6 L1569.7,1100.0 L1572.5,1110.4 L1401.0,1125.7 Z" stroke="#000" stroke-width="2.8" fill="none"/>
<ellipse cx="1617.1" cy="1101.8" rx="21.6" ry="14.3" fill="#fff" stroke="#000" stroke-width="3.5"/>
<path d="M1596,1104 A21.6,14.3 0 0 0 1638.5,1104" stroke="#000" stroke-width="5.5" fill="none"/>
<ellipse cx="1616.4" cy="1101.4" rx="11.5" ry="7" fill="#fff" stroke="#000" stroke-width="4"/>
<ellipse cx="1346.8" cy="1129.6" rx="2.5" ry="3" fill="#555"/>
<path d="M1559.2,917.0 L1574.8,923.7 L1612.5,968.0 L1603.6,969.5 L1559.2,928.1 Z" stroke="#000" stroke-width="2.8" fill="#fff"/>
<line x1="1559.2" y1="928.1" x2="1603.6" y2="969.5" stroke="#000" stroke-width="5"/>
<line x1="1559.2" y1="917.0" x2="1559.2" y2="928.1" stroke="#000" stroke-width="4"/>
<ellipse cx="1616" cy="990" rx="5.5" ry="3.5" fill="#fff" stroke="#000" stroke-width="2.4"/>
<line x1="1619.0" y1="984.0" x2="1717.0" y2="1091.0" stroke="#000" stroke-width="6.5"/>
<line x1="1622.5" y1="982.0" x2="1722.0" y2="1088.0" stroke="#fff" stroke-width="1.2"/>
<ellipse cx="1616.2" cy="976.6" rx="17.2" ry="10.2" fill="#fff" stroke="#000" stroke-width="3.8"/>
<ellipse cx="1616.5" cy="976.5" rx="7.5" ry="4.5" fill="#000"/>
<path d="M1713.7,1101.0 L1724.0,1087.8 L1746.3,1090.8 L1761.8,1125.5 L1753.7,1127.7 Z" stroke="#000" stroke-width="2.6" fill="#fff"/>
<path d="M1713.7,1101.0 L1753.7,1127.7 L1761.8,1125.5" stroke="#000" stroke-width="5.5" fill="none"/>
<line x1="1717.0" y1="1098.0" x2="1725.0" y2="1089.0" stroke="#000" stroke-width="5"/>
<line x1="1744.0" y1="1094.0" x2="1757.0" y2="1124.0" stroke="#000" stroke-width="1.4"/>
<path d="M1255.9,620.8 A360.6,208.5 0 0 1 1616.5,412.3A360.6,208.5 0 0 1 1977.1,620.8 L1977.1,645.1 A360.6,208.5 0 0 1 1616.5,853.6A360.6,208.5 0 0 1 1255.9,645.1 Z M1260.6,615.7A355.7,205.7 0 0 1 1794.2,437.6A355.7,205.7 0 0 1 1794.1,793.8A355.7,205.7 0 0 1 1260.6,615.7" fill="#fff" stroke="none"/>
<clipPath id="cpOutE1"><path clip-rule="evenodd" d="M0,0 H4960 V3507 H0 Z M1260.6,615.7A355.7,205.7 0 0 1 1794.2,437.6A355.7,205.7 0 0 1 1794.1,793.8A355.7,205.7 0 0 1 1260.6,615.7 Z"/></clipPath>
<g clip-path="url(#cpOutE1)">
<ellipse cx="1616.5" cy="620.8" rx="360.6" ry="208.5" stroke="#000" stroke-width="2.6" fill="none"/>
</g>
<path d="M1977.1,645.1A360.6,208.5 0 0 1 1616.5,853.6A360.6,208.5 0 0 1 1255.9,645.1" stroke="#000" stroke-width="2.6" fill="none"/>
<line x1="1255.9" y1="620.8" x2="1255.9" y2="645.1" stroke="#000" stroke-width="2.5"/>
<line x1="1977.1" y1="620.8" x2="1977.1" y2="645.1" stroke="#000" stroke-width="2.5"/>
<ellipse cx="1616.3" cy="615.7" rx="355.7" ry="205.7" stroke="#000" stroke-width="2.6" fill="none"/>
<line x1="1324.8" y1="364.4" x2="1510.6" y2="489.5" stroke="#000" stroke-width="2.2"/>
<circle cx="1510.6" cy="489.5" r="3.6" fill="#000"/>
<circle cx="1282.9" cy="336.2" r="50.5" fill="#fff" stroke="#000" stroke-width="2.4"/>
<text x="1255.4" y="352.9" font-size="48.4" fill="#000">12</text>
<line x1="1016.4" y1="960.2" x2="1331.3" y2="1100.3" stroke="#000" stroke-width="2.2"/>
<path d="M1367.8,1116.6 L1328.8,1105.8 L1333.7,1094.9 Z" fill="#000"/>
<circle cx="970.3" cy="939.7" r="50.5" fill="#fff" stroke="#000" stroke-width="2.4"/>
<text x="956.8" y="956.4" font-size="48.4" fill="#000">7</text>
<line x1="1928.5" y1="1008.6" x2="1743.5" y2="1091.1" stroke="#000" stroke-width="2.2"/>
<circle cx="1743.5" cy="1091.1" r="3.6" fill="#000"/>
<circle cx="1974.6" cy="988" r="50.5" fill="#fff" stroke="#000" stroke-width="2.4"/>
<text x="1961.2" y="1004.7" font-size="48.4" fill="#000">5</text>
<line x1="1924.4" y1="1211.1" x2="1708.3" y2="1185.5" stroke="#000" stroke-width="2.2"/>
<path d="M1668.6,1180.8 L1709.0,1179.5 L1707.6,1191.5 Z" fill="#000"/>
<circle cx="1974.6" cy="1217" r="50.5" fill="#fff" stroke="#000" stroke-width="2.4"/>
<text x="1961.1" y="1233.7" font-size="48.4" fill="#000">8</text>
<line x1="2330.6" y1="1195.0" x2="2214.9" y2="1219.2" stroke="#000" stroke-width="2.2"/>
<circle cx="2214.9" cy="1219.2" r="3.6" fill="#000"/>
<circle cx="2380" cy="1184.6" r="50.5" fill="#fff" stroke="#000" stroke-width="2.4"/>
<text x="2352.2" y="1201.3" font-size="48.4" fill="#000">10</text>
<line x1="2334.5" y1="1497.5" x2="2084.0" y2="1376.4" stroke="#000" stroke-width="2.2"/>
<circle cx="2084.0" cy="1376.4" r="3.6" fill="#000"/>
<circle cx="2380" cy="1519.5" r="50.5" fill="#fff" stroke="#000" stroke-width="2.4"/>
<text x="2366.6" y="1536.2" font-size="48.4" fill="#000">9</text>
<line x1="821.7" y1="1473.5" x2="1082.5" y2="1515.9" stroke="#000" stroke-width="2.2"/>
<circle cx="1082.5" cy="1515.9" r="3.6" fill="#000"/>
<circle cx="771.9" cy="1465.4" r="50.5" fill="#fff" stroke="#000" stroke-width="2.4"/>
<text x="744.2" y="1482.1" font-size="48.4" fill="#000">13</text>
<line x1="832.9" y1="1728.2" x2="1483.4" y2="1991.7" stroke="#000" stroke-width="2.2"/>
<circle cx="1483.4" cy="1991.7" r="3.6" fill="#000"/>
<circle cx="786.1" cy="1709.2" r="50.5" fill="#fff" stroke="#000" stroke-width="2.4"/>
<text x="758.5" y="1725.9" font-size="48.4" fill="#000">11</text>
<line x1="820.5" y1="1968.1" x2="1356.8" y2="2101.0" stroke="#000" stroke-width="2.2"/>
<circle cx="1356.8" cy="2101.0" r="3.6" fill="#000"/>
<circle cx="771.5" cy="1955.9" r="50.5" fill="#fff" stroke="#000" stroke-width="2.4"/>
<text x="758.2" y="1972.6" font-size="48.4" fill="#000">4</text>
<line x1="820.6" y1="2244.8" x2="1242.0" y2="2416.6" stroke="#000" stroke-width="2.2"/>
<path d="M1279.0,2431.7 L1239.7,2422.2 L1244.2,2411.0 Z" fill="#000"/>
<circle cx="773.8" cy="2225.7" r="50.5" fill="#fff" stroke="#000" stroke-width="2.4"/>
<text x="760.5" y="2242.4" font-size="48.4" fill="#000">3</text>
<line x1="828.5" y1="2565.1" x2="1180.1" y2="2676.0" stroke="#000" stroke-width="2.2"/>
<path d="M1218.2,2688.0 L1178.2,2681.7 L1181.9,2670.2 Z" fill="#000"/>
<circle cx="780.3" cy="2549.9" r="50.5" fill="#fff" stroke="#000" stroke-width="2.4"/>
<text x="766.8" y="2566.6" font-size="48.4" fill="#000">2</text>
<line x1="841.9" y1="2873.1" x2="1164.1" y2="2948.8" stroke="#000" stroke-width="2.2"/>
<path d="M1203.0,2958.0 L1162.7,2954.7 L1165.4,2943.0 Z" fill="#000"/>
<circle cx="792.7" cy="2861.5" r="50.5" fill="#fff" stroke="#000" stroke-width="2.4"/>
<text x="778.6" y="2878.2" font-size="48.4" fill="#000">1</text>
<line x1="2098.0" y1="2543.1" x2="2019.3" y2="2532.3" stroke="#000" stroke-width="2.2"/>
<path d="M1979.7,2526.8 L2020.1,2526.3 L2018.5,2538.2 Z" fill="#000"/>
<circle cx="2148" cy="2550" r="50.5" fill="#fff" stroke="#000" stroke-width="2.4"/>
<text x="2134.4" y="2566.7" font-size="48.4" fill="#000">6</text>
<defs><mask id="wmMask" maskUnits="userSpaceOnUse" x="0" y="0" width="4960" height="3507">
<rect width="4960" height="3507" fill="#000"/>
<text transform="translate(2366.8,1736.1) rotate(-30)" x="-409.4" y="0" font-size="155.5" textLength="1150.0" lengthAdjust="spacingAndGlyphs" fill="#fff" stroke="#000" stroke-width="4">Work In Progress</text>
</mask>
<clipPath id="cpDraw"><rect x="0" y="0" width="2587" height="3507"/></clipPath>
<clipPath id="cpTab"><rect x="2587" y="0" width="2373" height="3507"/></clipPath>
</defs>
<g clip-path="url(#cpDraw)"><rect width="4960" height="3507" fill="#bfc4d0" mask="url(#wmMask)" style="mix-blend-mode:darken"/></g>
<g clip-path="url(#cpTab)"><rect width="4960" height="3507" fill="#bfc4d0" mask="url(#wmMask)"/></g>
<g stroke="#111" stroke-width="2.6" fill="none">
<line x1="2587.5" y1="602.5" x2="4582.9" y2="602.5"/>
<line x1="2587.5" y1="868" x2="4582.9" y2="868"/>
<line x1="2587.5" y1="954.7" x2="4582.9" y2="954.7"/>
<line x1="2587.5" y1="1075.3" x2="4582.9" y2="1075.3"/>
<line x1="2587.5" y1="1162.4" x2="4582.9" y2="1162.4"/>
<line x1="2587.5" y1="1249" x2="4582.9" y2="1249"/>
<line x1="2587.5" y1="1335.3" x2="4582.9" y2="1335.3"/>
<line x1="2587.5" y1="1421.5" x2="4582.9" y2="1421.5"/>
<line x1="2587.5" y1="1508.2" x2="4582.9" y2="1508.2"/>
<line x1="2587.5" y1="1594.6" x2="4582.9" y2="1594.6"/>
<line x1="2587.5" y1="1715.5" x2="4582.9" y2="1715.5"/>
<line x1="2587.5" y1="1802.1" x2="4582.9" y2="1802.1"/>
<line x1="2587.5" y1="1888.8" x2="4582.9" y2="1888.8"/>
<line x1="2587.5" y1="2009" x2="4582.9" y2="2009"/>
<line x1="2587.5" y1="2129.6" x2="4582.9" y2="2129.6"/>
<line x1="2588.7" y1="602.5" x2="2588.7" y2="2129.6"/>
<line x1="2894" y1="602.5" x2="2894" y2="2129.6"/>
<line x1="3447.2" y1="602.5" x2="3447.2" y2="2129.6"/>
<line x1="4328.8" y1="602.5" x2="4328.8" y2="2129.6"/>
<line x1="4581.7" y1="602.5" x2="4581.7" y2="2129.6"/>
</g>
</svg></body></html>
